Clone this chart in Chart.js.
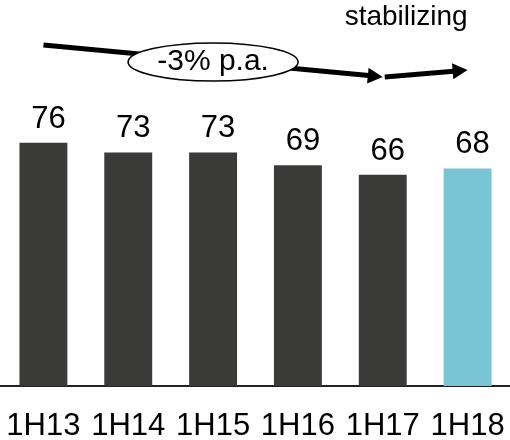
<!DOCTYPE html>
<html>
<head>
<meta charset="utf-8">
<script src="https://cdn.jsdelivr.net/npm/chart.js@4"></script>
<style>
  html, body { margin: 0; padding: 0; background: #ffffff; }
  #wrap { width: 510px; height: 440px; position: relative; }
</style>
</head>
<body>
<div id="wrap"><canvas id="chart" width="510" height="440"></canvas></div>
<script>
// Half-year periods and their values
const periods = ['1H13', '1H14', '1H15', '1H16', '1H17', '1H18'];
const values = [76, 73, 73, 69, 66, 68];
const barColors = ['#3a3b39', '#3a3b39', '#3a3b39', '#3a3b39', '#3a3b39', '#79c5d5'];

// Trend callouts
const trendLabel = '-3% p.a.';
const outlookLabel = 'stabilizing';

const FONT = "'Liberation Sans', Arial, sans-serif";

// Value labels above each bar
const valueLabels = {
  id: 'valueLabels',
  afterDatasetsDraw(chart) {
    const ctx = chart.ctx;
    const meta = chart.getDatasetMeta(0);
    ctx.save();
    ctx.font = '31px ' + FONT;
    ctx.fillStyle = '#000000';
    ctx.textAlign = 'center';
    ctx.textBaseline = 'alphabetic';
    meta.data.forEach((bar, i) => {
      ctx.fillText(String(values[i]), bar.x + 5, bar.y - 15);
    });
    ctx.restore();
  }
};

function arrowHead(ctx, x1, y1, x2, y2, len, half) {
  const a = Math.atan2(y2 - y1, x2 - x1);
  ctx.beginPath();
  ctx.moveTo(x2, y2);
  ctx.lineTo(x2 - len * Math.cos(a) + half * Math.sin(a), y2 - len * Math.sin(a) - half * Math.cos(a));
  ctx.lineTo(x2 - len * Math.cos(a) - half * Math.sin(a), y2 - len * Math.sin(a) + half * Math.cos(a));
  ctx.closePath();
  ctx.fill();
}

// Trend arrows with the ellipse callout and the outlook note
const trendArrows = {
  id: 'trendArrows',
  afterDraw(chart) {
    const ctx = chart.ctx;
    const xs = chart.scales.x;
    const x0 = xs.getPixelForValue(0);
    const x4 = xs.getPixelForValue(4);
    const x5 = xs.getPixelForValue(5);
    const y0 = 45, y4 = 77, y5 = 70;
    const lineAt = (x) => y0 + (y4 - y0) * (x - x0) / (x4 - x0);

    ctx.save();
    ctx.strokeStyle = '#000000';
    ctx.fillStyle = '#000000';
    ctx.lineCap = 'butt';

    // falling trend line
    const headLen = 15;
    const ang = Math.atan2(y4 - y0, x4 - x0);
    ctx.lineWidth = 5;
    ctx.beginPath();
    ctx.moveTo(x0, y0);
    ctx.lineTo(x4 - headLen * Math.cos(ang) + 1, y4 - headLen * Math.sin(ang));
    ctx.stroke();
    arrowHead(ctx, x0, y0, x4, y4, headLen, 8);

    // flat outlook arrow
    const ang2 = Math.atan2(y5 - y4, x5 - x4);
    ctx.beginPath();
    ctx.moveTo(x4 + 2, y4);
    ctx.lineTo(x5 - headLen * Math.cos(ang2) + 1, y5 - headLen * Math.sin(ang2));
    ctx.stroke();
    arrowHead(ctx, x4 + 2, y4, x5, y5, headLen, 8);

    // ellipse callout on the trend line
    const cx = (x0 + x4) / 2;
    const cy = lineAt(cx) + 1;
    ctx.beginPath();
    ctx.ellipse(cx, cy, 85, 19, 0, 0, Math.PI * 2);
    ctx.fillStyle = '#ffffff';
    ctx.fill();
    ctx.lineWidth = 1.6;
    ctx.stroke();

    ctx.fillStyle = '#000000';
    ctx.font = '30px ' + FONT;
    ctx.textAlign = 'center';
    ctx.textBaseline = 'middle';
    ctx.fillText(trendLabel, cx, cy);

    ctx.font = '28px ' + FONT;
    ctx.textAlign = 'right';
    ctx.textBaseline = 'alphabetic';
    ctx.fillText(outlookLabel, x5, 25);
    ctx.restore();
  }
};

new Chart(document.getElementById('chart'), {
  type: 'bar',
  data: {
    labels: periods,
    datasets: [{
      data: values,
      backgroundColor: barColors,
      borderWidth: 0,
      barPercentage: 0.565,
      categoryPercentage: 1
    }]
  },
  options: {
    responsive: false,
    animation: false,
    devicePixelRatio: 1,
    layout: { padding: { top: 2, left: 1, right: 0, bottom: 0 } },
    plugins: {
      legend: { display: false },
      tooltip: { enabled: false },
      title: { display: false }
    },
    scales: {
      x: {
        grid: { display: false, drawTicks: false },
        border: { display: true, color: '#222222', width: 2 },
        ticks: {
          color: '#000000',
          padding: 22,
          maxRotation: 0,
          autoSkip: false,
          font: { family: FONT, size: 31, lineHeight: 1.2 }
        },
        afterFit(scale) {
          scale.height = 54;
          scale.paddingLeft = 0;
          scale.paddingRight = 0;
        }
      },
      y: {
        display: false,
        min: 0,
        max: 120
      }
    }
  },
  plugins: [valueLabels, trendArrows]
});
</script>
</body>
</html>
